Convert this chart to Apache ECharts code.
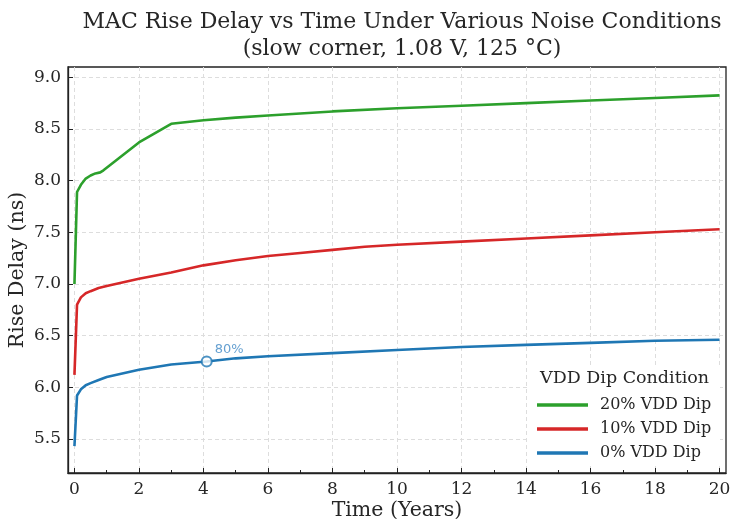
<!DOCTYPE html>
<html lang="en">
<head>
    <meta charset="UTF-8">
    <title>MAC Rise Delay vs Time</title>
    <style>
        html, body { margin: 0; padding: 0; background: #fff; }
        #chart { width: 731px; height: 519px; }
    </style>
</head>
<body>
    <div id="chart"></div>
    <script src="https://cdn.jsdelivr.net/npm/echarts@6/dist/echarts.min.js"></script>
    <script>
        // data: [years, rise delay ns]
        const dip20 = [[0, 7.0], [0.08, 7.89], [0.2, 7.96], [0.35, 8.02], [0.5, 8.05], [0.65, 8.07], [0.8, 8.08], [0.9, 8.10],
            [2, 8.37], [3, 8.55], [4, 8.585], [5, 8.61], [6, 8.63], [8, 8.67], [10, 8.70], [12, 8.725], [14, 8.75], [16, 8.775], [18, 8.80], [20, 8.825]]
        const dip10 = [[0, 6.12], [0.08, 6.8], [0.2, 6.87], [0.35, 6.91], [0.5, 6.93], [0.75, 6.96], [1, 6.98], [2, 7.05], [3, 7.11],
            [4, 7.18], [5, 7.23], [6, 7.27], [7, 7.30], [8, 7.33], [9, 7.36], [10, 7.38], [12, 7.41], [14, 7.44], [16, 7.47], [18, 7.50], [20, 7.53]]
        const dip0 = [[0, 5.43], [0.08, 5.92], [0.2, 5.98], [0.35, 6.02], [0.5, 6.04], [0.75, 6.07], [1, 6.10], [2, 6.17], [3, 6.22],
            [4.1, 6.25], [5, 6.28], [6, 6.30], [8, 6.33], [10, 6.36], [12, 6.39], [14, 6.41], [16, 6.43], [18, 6.45], [20, 6.46]]
        const marker80 = [[4.1, 6.25]]
        const xTicks = [0, 2, 4, 6, 8, 10, 12, 14, 16, 18, 20]
        const xMinorTicks = [1, 3, 5, 7, 9, 11, 13, 15, 17, 19]
        const yTicks = [5.5, 6.0, 6.5, 7.0, 7.5, 8.0, 8.5, 9.0]
        const seriesNames = ['20% VDD Dip', '10% VDD Dip', '0% VDD Dip']

        const serif = 'DejaVu Serif'
        const ink = '#262626'
        const gridLine = { show: true, lineStyle: { color: '#dddddd', type: [4, 3], width: 1 } }

        const chart = echarts.init(document.getElementById('chart'), null, { renderer: 'canvas' })

        const option = {
            animation: false,
            backgroundColor: '#fff',
            title: {
                text: 'MAC Rise Delay vs Time Under Various Noise Conditions\n(slow corner, 1.08 V, 125 °C)',
                left: 397, top: 4, textAlign: 'center',
                textStyle: { fontFamily: serif, fontSize: 22, fontWeight: 'normal', color: ink, lineHeight: 27 }
            },
            grid: {
                left: 68, right: 5, top: 67, bottom: 46,
                outerBoundsMode: 'none', containLabel: false,
                show: true, borderColor: '#222', borderWidth: 1.3, backgroundColor: 'transparent'
            },
            legend: {
                data: seriesNames,
                orient: 'vertical',
                left: 537, top: 397, padding: 0,
                icon: 'rect',
                itemWidth: 51, itemHeight: 3.5, itemGap: 8,
                textStyle: { fontFamily: serif, fontSize: 16, color: ink, lineHeight: 16, padding: [0, 0, 0, 7] }
            },
            graphic: [
                { type: 'rect', z: 1, shape: { x: 527, y: 366, width: 193, height: 100 }, style: { fill: '#fff' } },
                { type: 'text', z: 3, left: 540, top: 369, style: { text: 'VDD Dip Condition', font: '17.5px "DejaVu Serif"', fill: ink } }
            ],
            xAxis: [{
                type: 'value', min: -0.2, max: 20.2,
                name: 'Time (Years)', nameLocation: 'middle', nameGap: 27, nameMoveOverlap: false,
                nameTextStyle: { fontFamily: serif, fontSize: 20.5, color: ink },
                axisLine: { show: true, onZero: false, lineStyle: { color: '#222', width: 1.3 } },
                axisTick: { show: true, inside: true, length: 5, customValues: xTicks, lineStyle: { color: '#222' } },
                axisLabel: { customValues: xTicks, fontFamily: serif, fontSize: 17, color: ink, margin: 8 },
                splitLine: gridLine
            }, {
                type: 'value', min: -0.2, max: 20.2, position: 'bottom',
                axisLine: { show: false, onZero: false },
                axisTick: { show: true, inside: true, length: 3, customValues: xMinorTicks, lineStyle: { color: '#222' } },
                axisLabel: { show: false },
                splitLine: { show: false }
            }],
            yAxis: {
                type: 'value', min: 5.17, max: 9.1,
                name: 'Rise Delay (ns)', nameLocation: 'middle', nameGap: 40, nameMoveOverlap: false,
                nameTextStyle: { fontFamily: serif, fontSize: 20.5, color: ink },
                axisLine: { show: true, onZero: false, lineStyle: { color: '#222', width: 1.3 } },
                axisTick: { show: true, inside: true, length: 5, customValues: yTicks, lineStyle: { color: '#222' } },
                axisLabel: { customValues: yTicks, fontFamily: serif, fontSize: 17, color: ink, margin: 7, formatter: v => v.toFixed(1) },
                splitLine: gridLine
            },
            series: [
                { name: seriesNames[0], type: 'line', data: dip20, showSymbol: false, color: '#2ca02c', lineStyle: { width: 2.6 }, z: 4 },
                { name: seriesNames[1], type: 'line', data: dip10, showSymbol: false, color: '#d62728', lineStyle: { width: 2.6 }, z: 4 },
                { name: seriesNames[2], type: 'line', data: dip0, showSymbol: false, color: '#1f77b4', lineStyle: { width: 2.6 }, z: 4 },
                {
                    name: 'marker', type: 'scatter', data: marker80, symbol: 'circle', symbolSize: 10, z: 5,
                    itemStyle: { color: '#fff', borderColor: '#1f77b4', borderWidth: 2 },
                    label: { show: true, formatter: '80%', position: 'right', offset: [-3, -12], fontFamily: 'DejaVu Sans', fontSize: 13, color: '#3f88c5' }
                }
            ]
        }

        chart.setOption(option)
    </script>
</body>
</html>
